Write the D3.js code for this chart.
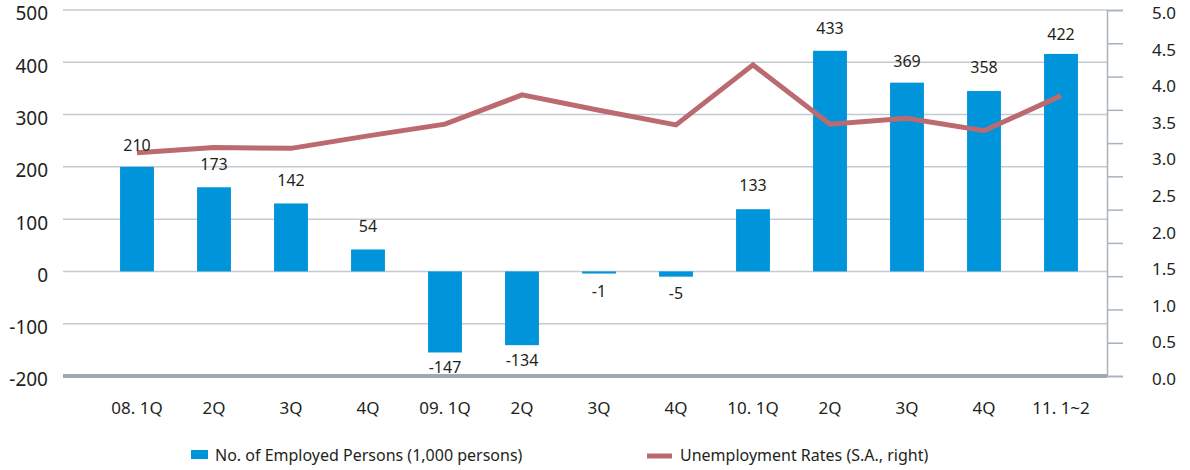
<!DOCTYPE html>
<html>
<head>
<meta charset="utf-8">
<script src="https://cdn.jsdelivr.net/npm/d3@7"></script>
<style>
  body { margin: 0; background: #fff; }
  text { font-family: "Noto Sans", sans-serif; fill: #231f20; }
</style>
</head>
<body>
<svg id="chart"></svg>
<script>
const quarters = ["08. 1Q", "2Q", "3Q", "4Q", "09. 1Q", "2Q ", "3Q ", "4Q ", "10. 1Q", "2Q  ", "3Q  ", "4Q  ", "11. 1~2"];
// labels printed above / below the bars
const employedLabels = [210, 173, 142, 54, -147, -134, -1, -5, 133, 433, 369, 358, 422];
// bar heights as drawn in the original (they sit a little below their labels)
const employedBars = [200, 161, 130, 42, -155, -141, -4, -10, 119, 422, 361, 345, 416];
const unemploymentRate = [3.05, 3.12, 3.11, 3.28, 3.44, 3.84, 3.63, 3.43, 4.25, 3.44, 3.52, 3.35, 3.83];
const leftTicks = [-200, -100, 0, 100, 200, 300, 400, 500];
const rightTicks = [0, 0.5, 1, 1.5, 2, 2.5, 3, 3.5, 4, 4.5, 5];

const margin = { top: 10, right: 83, bottom: 94, left: 63 };
const width = 1190 - margin.left - margin.right;
const height = 470 - margin.top - margin.bottom;

const root = d3.select("#chart")
    .attr("width", 1190)
    .attr("height", 470);

const svg = root.append("g")
    .attr("transform", `translate(${margin.left},${margin.top})`);

const x = d3.scaleBand()
    .domain(quarters)
    .range([35.5, 1036.5])
    .paddingInner(0.56)
    .paddingOuter(0.28);
const y = d3.scaleLinear()
    .domain([-200, 500])
    .range([height, 0]);
const y2 = d3.scaleLinear()
    .domain([0, 5])
    .range([height, 0]);
// the right axis has 11 tick intervals, unlike its 10 label steps
const yTickMarks = d3.scaleLinear()
    .domain([0, 11])
    .range([height, 0]);

// grid lines
svg.append("g")
    .selectAll("line")
    .data(leftTicks.filter(d => d !== -200))
    .enter()
    .append("line")
    .attr("x1", 0)
    .attr("x2", width)
    .attr("y1", d => y(d))
    .attr("y2", d => y(d))
    .attr("stroke", "#c3cbd2")
    .attr("stroke-width", 1.5);

// left axis labels (plain hyphen for negatives, like the original)
svg.append("g")
    .attr("class", "y-axis")
    .attr("transform", "translate(-15,0)")
    .call(d3.axisLeft(y).tickValues(leftTicks).tickSize(0).tickPadding(0).tickFormat(d => String(d)))
    .call(g => g.select(".domain").remove())
    .call(g => g.selectAll("text")
        .attr("dy", "0.52em")
        .style("font-size", "19px")
        .style("fill", "#231f20"));

// right axis
svg.append("g")
    .attr("transform", `translate(${width},0)`)
    .call(d3.axisRight(yTickMarks).tickValues(d3.range(0, 12)).tickSize(16).tickFormat(""))
    .call(g => g.select(".domain").attr("stroke", "#a8b3bb").attr("stroke-width", 1.5))
    .call(g => g.selectAll(".tick line").attr("stroke", "#a8b3bb").attr("stroke-width", 1.5));

svg.append("g")
    .attr("transform", `translate(${width + 45},0)`)
    .call(d3.axisRight(y2).tickValues(rightTicks).tickSize(0).tickPadding(0).tickFormat(d => d.toFixed(1)))
    .call(g => g.select(".domain").remove())
    .call(g => g.selectAll("text")
        .attr("dy", "0.5em")
        .style("font-size", "17px")
        .style("fill", "#231f20"));

// bars
svg.append("g")
    .selectAll("rect")
    .data(employedBars)
    .enter()
    .append("rect")
    .attr("x", (d, i) => x(quarters[i]))
    .attr("width", x.bandwidth())
    .attr("y", d => y(Math.max(0, d)))
    .attr("height", d => Math.abs(y(d) - y(0)))
    .attr("fill", "#0095da");

// bottom axis line
svg.append("line")
    .attr("x1", 0)
    .attr("x2", width)
    .attr("y1", y(-200))
    .attr("y2", y(-200))
    .attr("stroke", "#9eaab3")
    .attr("stroke-width", 4);

// x axis labels
svg.append("g")
    .attr("class", "x-axis")
    .attr("transform", `translate(0,${height})`)
    .call(d3.axisBottom(x).tickSize(0).tickPadding(26))
    .call(g => g.select(".domain").remove())
    .call(g => g.selectAll("text")
        .style("font-size", "17px")
        .style("fill", "#231f20"));

// unemployment line
const line = d3.line()
    .x((d, i) => x(quarters[i]) + x.bandwidth() / 2)
    .y(d => y2(d));

svg.append("path")
    .datum(unemploymentRate)
    .attr("d", line)
    .attr("fill", "none")
    .attr("stroke", "#bb6a70")
    .attr("stroke-width", 5);

// value labels
svg.append("g")
    .selectAll("text")
    .data(employedLabels)
    .enter()
    .append("text")
    .attr("x", (d, i) => x(quarters[i]) + x.bandwidth() / 2)
    .attr("y", d => d >= 0 ? y(d) - 11 : y(d) + 25)
    .attr("text-anchor", "middle")
    .style("font-size", "16px")
    .text(d => d);

// legend
const legend = root.append("g");
legend.append("rect")
    .attr("x", 191).attr("y", 450)
    .attr("width", 17).attr("height", 9)
    .attr("fill", "#0095da");
legend.append("text")
    .attr("x", 215).attr("y", 461)
    .style("font-size", "16px")
    .text("No. of Employed Persons (1,000 persons)");
legend.append("line")
    .attr("x1", 647).attr("x2", 672)
    .attr("y1", 456).attr("y2", 456)
    .attr("stroke", "#bb6a70")
    .attr("stroke-width", 5);
legend.append("text")
    .attr("x", 680).attr("y", 461)
    .style("font-size", "16px")
    .text("Unemployment Rates (S.A., right)");
</script>
</body>
</html>
